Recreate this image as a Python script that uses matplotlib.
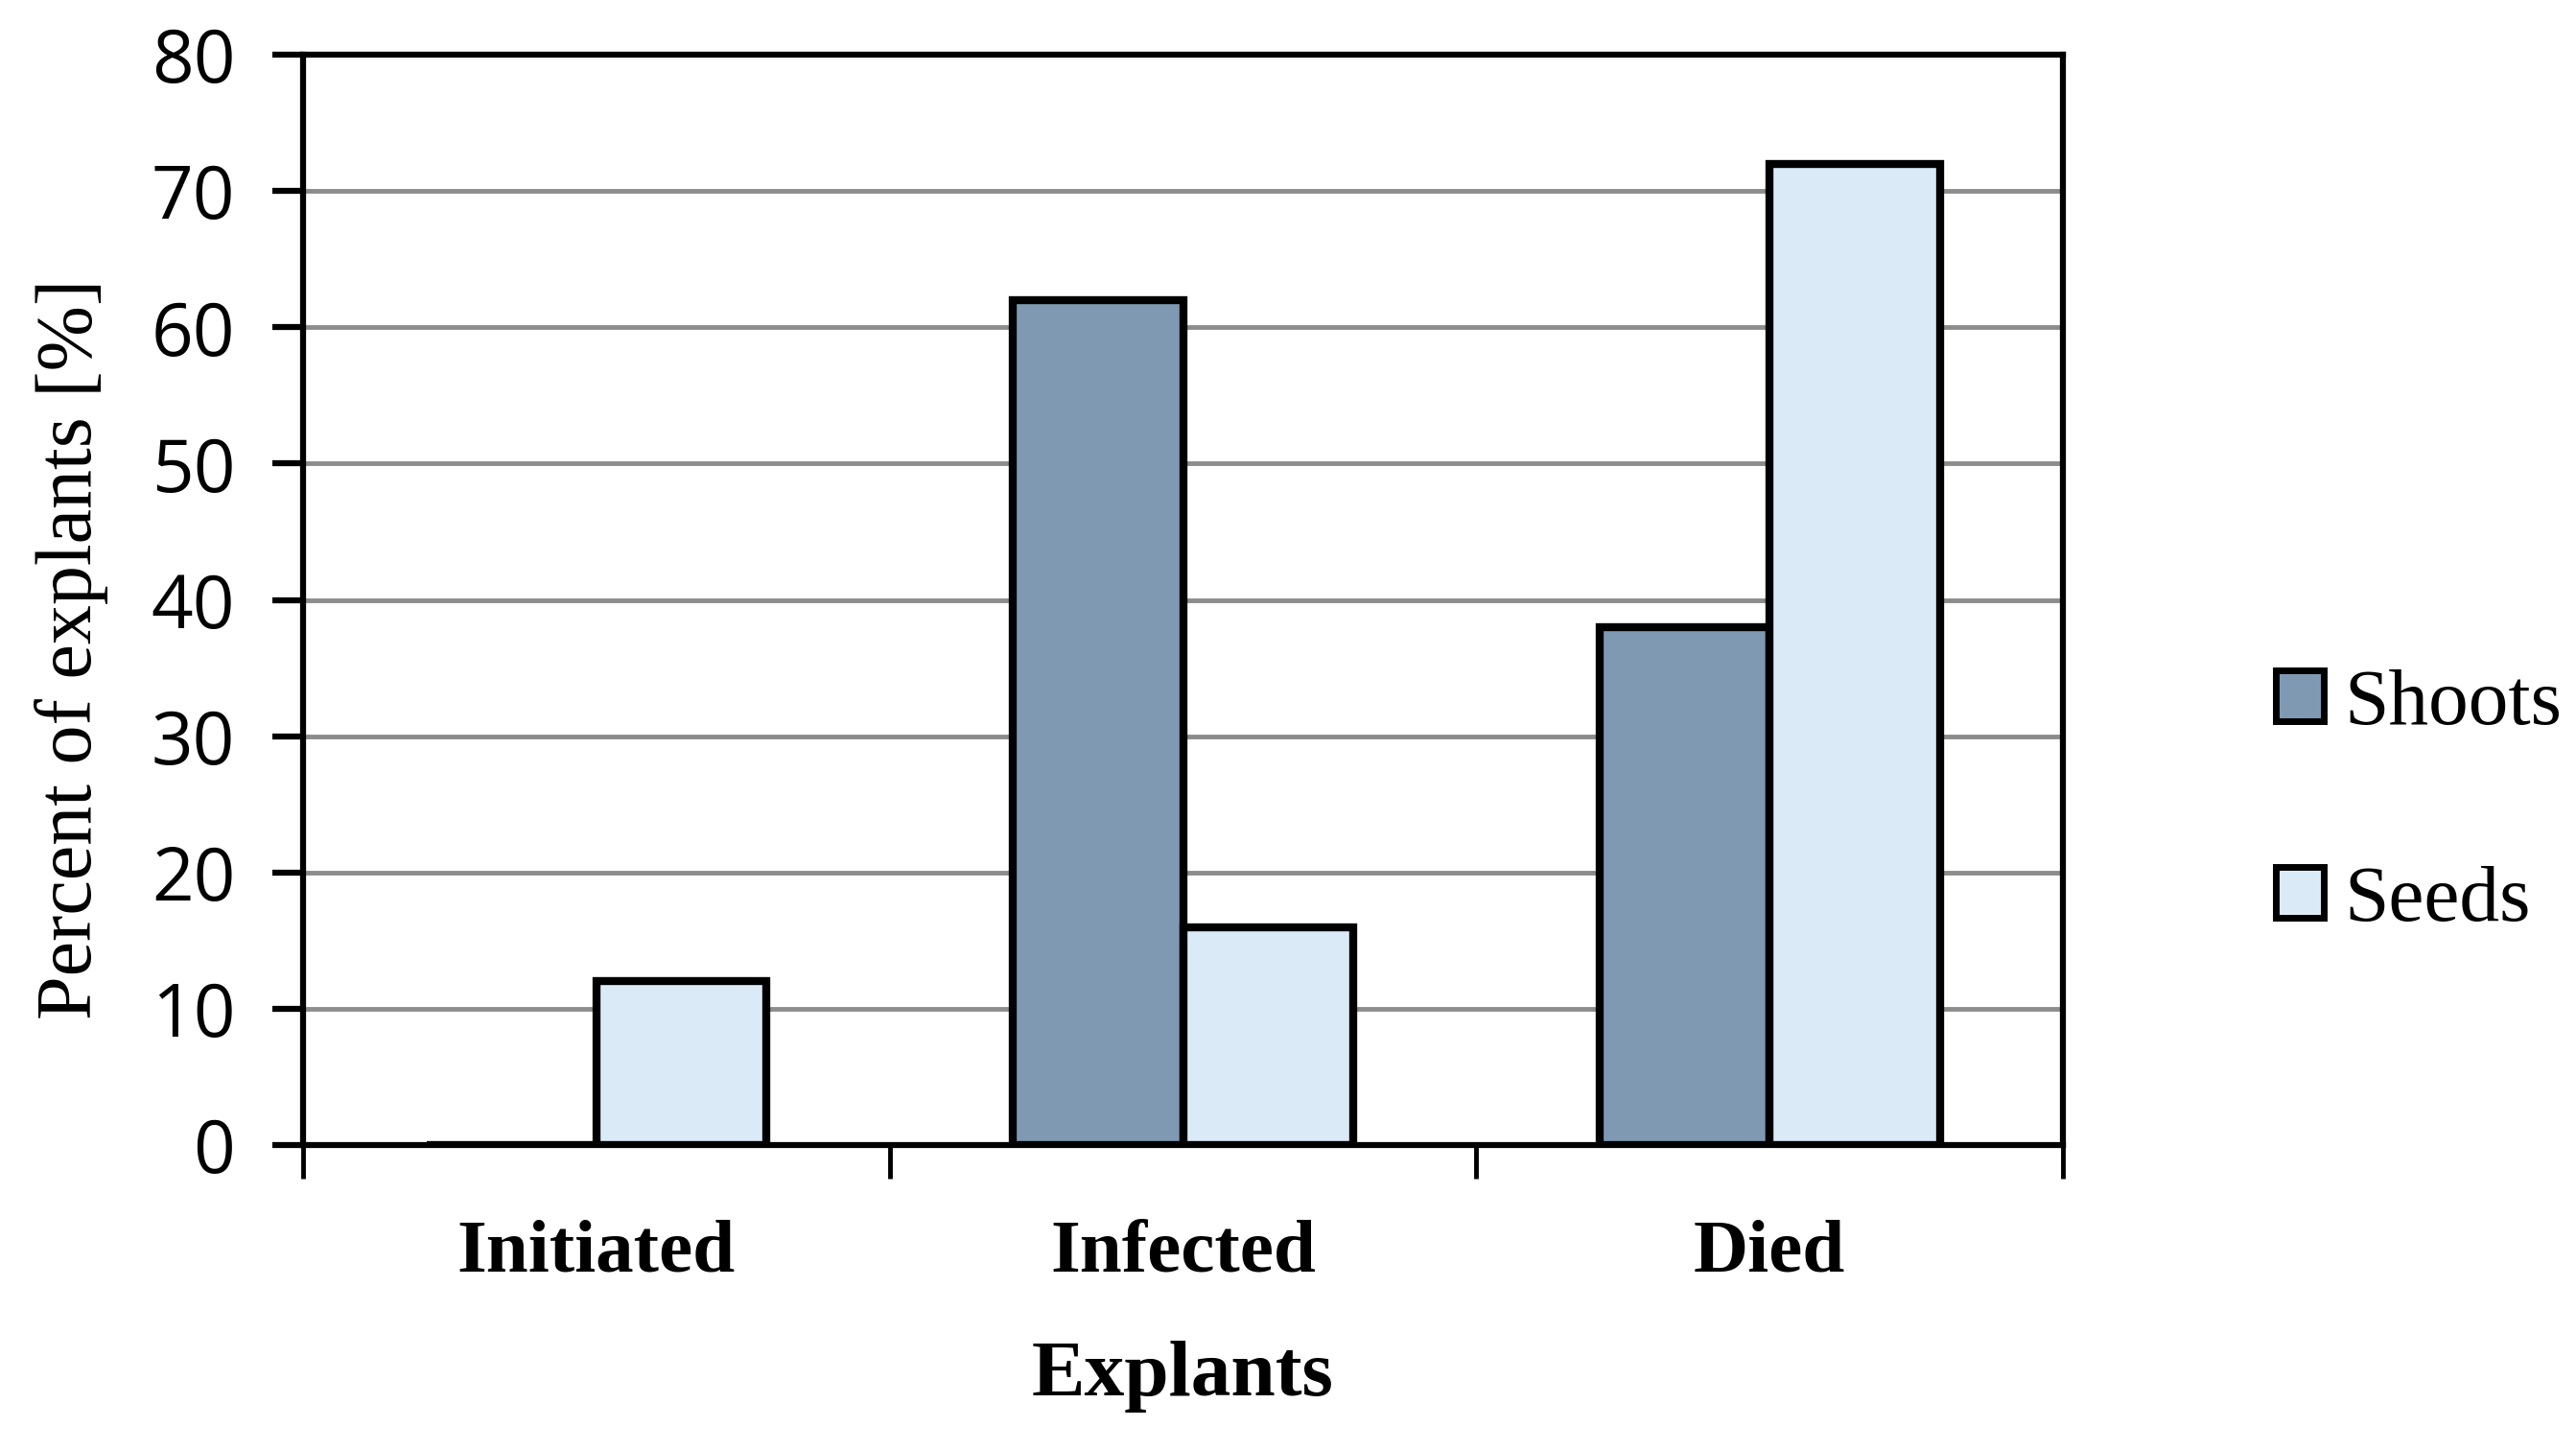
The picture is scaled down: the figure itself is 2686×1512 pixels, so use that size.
"""
Grouped bar chart: percent of explants (shoots vs seeds).
"""

import numpy as np
import matplotlib
matplotlib.use("Agg")
import matplotlib.pyplot as plt

categories = ["Initiated", "Infected", "Died"]
shoots = [0, 62, 38]
seeds = [12, 16, 72]
series_names = ["Shoots", "Seeds"]
y_ticks = [0, 10, 20, 30, 40, 50, 60, 70, 80]

SERIF = ["Liberation Serif", "DejaVu Serif"]
SANS = ["Open Sans", "DejaVu Sans"]


def draw_chart():
    """
    Draw the chart and save it to out.png.
    """
    fig = plt.figure(figsize=(26.86, 15.12), dpi=100)
    ax = fig.add_axes([0.1177, 0.2103, 0.6831, 0.752])

    x = np.arange(len(categories))
    width = 0.29
    bar_kw = dict(edgecolor="black", linewidth=6, zorder=3)
    ax.bar(x - width / 2, shoots, width, color="#7f99b3", label=series_names[0], **bar_kw)
    ax.bar(x + width / 2, seeds, width, color="#daeaf6", label=series_names[1], **bar_kw)

    ax.set_xlim(-0.5, len(categories) - 0.5)
    ax.set_ylim(0, 80)
    ax.set_yticks(y_ticks)
    ax.yaxis.grid(True, color="#8c8c8c", linewidth=3.5, zorder=0)
    ax.set_axisbelow(True)

    # boundaries get the tick marks, centers get the labels
    ax.set_xticks(np.arange(len(categories) + 1) - 0.5)
    ax.set_xticklabels([])
    ax.set_xticks(x, minor=True)
    ax.set_xticklabels(categories, minor=True, fontfamily=SERIF,
                       fontweight="bold", fontsize=57)
    ax.tick_params(axis="x", which="minor", length=0, pad=56)
    ax.tick_params(axis="x", which="major", length=25, width=3.5, direction="out")
    ax.tick_params(axis="y", length=23, width=4.5, direction="out", pad=28,
                   labelsize=55)
    for lbl in ax.get_yticklabels():
        lbl.set_fontfamily(SANS)

    for spine in ax.spines.values():
        spine.set_linewidth(4.5)
        spine.set_color("black")

    ax.set_xlabel("Explants", fontfamily=SERIF, fontweight="bold", fontsize=60,
                  labelpad=40)
    ax.set_ylabel("Percent of explants [%]", fontfamily=SERIF, fontsize=59,
                  labelpad=32)
    ax.yaxis.label.set_y(0.455)

    leg = fig.legend(loc="center left", bbox_to_anchor=(0.8556, 0.446),
                     frameon=False, prop={"family": SERIF, "size": 60},
                     handlelength=0.6, handleheight=0.6, handletextpad=0.25,
                     labelspacing=1.55)
    for patch in leg.get_patches():
        patch.set_linewidth(5)

    fig.savefig("out.png", dpi=100)


if __name__ == "__main__":
    draw_chart()
